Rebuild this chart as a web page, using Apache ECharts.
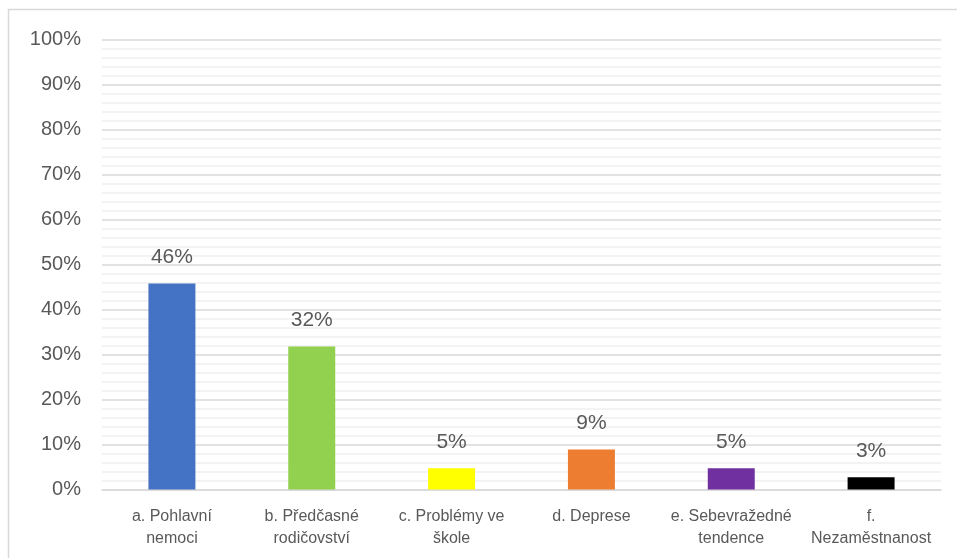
<!DOCTYPE html>
<html>
<head>
<meta charset="utf-8">
<script src="https://cdn.jsdelivr.net/npm/echarts@6/dist/echarts.min.js"></script>
<style>
html,body{margin:0;padding:0;background:#fff;}
#chart{width:957px;height:558px;}
</style>
</head>
<body>
<div id="chart"></div>
<script>
const categories = ["a. Pohlavní\nnemoci", "b. Předčasné\nrodičovství", "c. Problémy ve\nškole", "d. Deprese", "e. Sebevražedné\ntendence", "f.\nNezaměstnanost"];
const values = [45.8, 31.8, 4.7, 8.9, 4.7, 2.7];
const barColors = ["#4472C4", "#92D050", "#FFFF00", "#ED7D31", "#7030A0", "#000000"];

const chart = echarts.init(document.getElementById('chart'), null, {renderer: 'canvas'});
const font = "'Liberation Sans', Arial, sans-serif";
chart.setOption({
  backgroundColor: '#ffffff',
  animation: false,
  graphic: [{
    type: 'rect',
    shape: {x: 8.5, y: 9.5, width: 1000, height: 600},
    style: {fill: 'none', stroke: '#d9d9d9', lineWidth: 1.5},
    z: -1
  }],
  grid: {left: 102, right: 16, top: 39.5, bottom: 68.5, containLabel: false},
  xAxis: {
    type: 'category',
    data: categories,
    axisLine: {show: true, lineStyle: {color: '#d9d9d9', width: 1.5}},
    axisTick: {show: false},
    axisLabel: {color: '#595959', fontSize: 16, fontFamily: font, margin: 16, lineHeight: 22, interval: 0}
  },
  yAxis: {
    type: 'value',
    min: 0, max: 100, interval: 10,
    axisLine: {show: false},
    axisTick: {show: false},
    axisLabel: {color: '#595959', fontSize: 20, fontFamily: font, margin: 21, formatter: v => v + '%'},
    splitLine: {show: true, lineStyle: {color: '#d9d9d9', width: 1.5}},
    minorTick: {show: false, splitNumber: 5},
    minorSplitLine: {show: true, lineStyle: {color: '#f0f0f0', width: 1.5}}
  },
  series: [{
    type: 'bar',
    barWidth: '33.6%',
    data: values.map((v, i) => ({value: v, itemStyle: {color: barColors[i]}})),
    label: {
      show: true, position: 'top', distance: 16,
      color: '#595959', fontSize: 21, fontFamily: font,
      formatter: p => Math.round(p.value) + '%'
    }
  }]
});
</script>
</body>
</html>
